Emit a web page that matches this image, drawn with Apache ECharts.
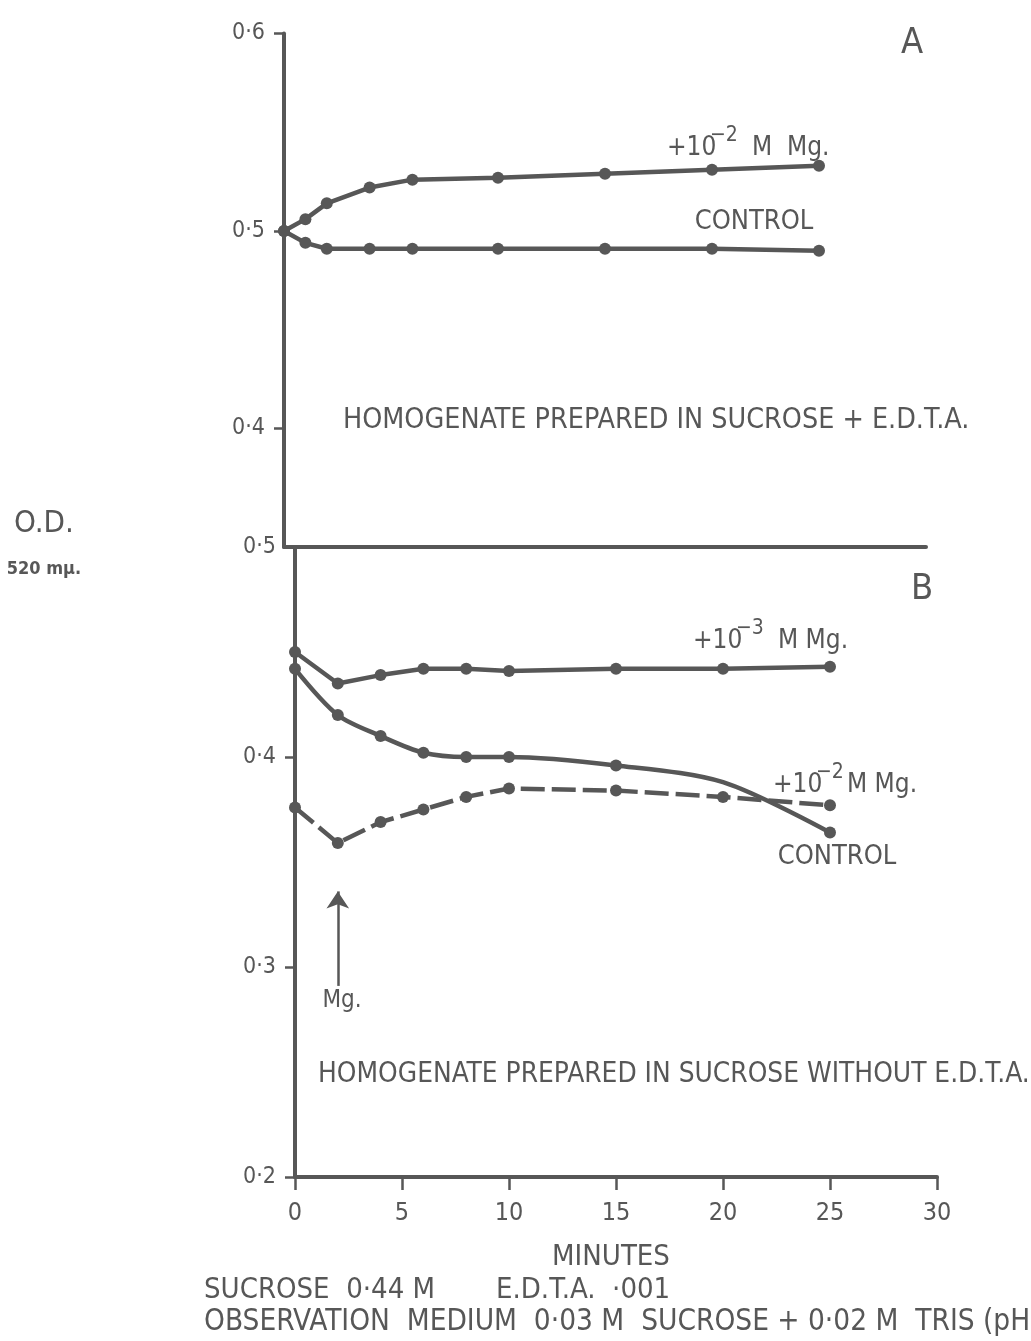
<!DOCTYPE html>
<html>
<head>
<meta charset="utf-8">
<script src="https://cdn.jsdelivr.net/npm/echarts@6/dist/echarts.min.js"></script>
<style>
  html, body { margin: 0; padding: 0; background: #ffffff; }
  #chart { width: 1031px; height: 1341px; }
</style>
</head>
<body>
<div id="chart"></div>
<script>
// Panel A: homogenate prepared in sucrose + EDTA (minutes, O.D. at 520 mµ)
const timesA = [0, 1, 2, 4, 6, 10, 15, 20, 25];
const mg2A = [0.500, 0.506, 0.514, 0.522, 0.526, 0.527, 0.529, 0.531, 0.533];
const controlA = [0.500, 0.494, 0.491, 0.491, 0.491, 0.491, 0.491, 0.491, 0.490];

// Panel B: homogenate prepared in sucrose without EDTA
const timesB = [0, 2, 4, 6, 8, 10, 15, 20, 25];
const mg3B = [0.450, 0.435, 0.439, 0.442, 0.442, 0.441, 0.442, 0.442, 0.443];
const controlB = [0.442, 0.420, 0.410, 0.402, 0.400, 0.400, 0.396, 0.388, 0.364];
const mg2B = [0.376, 0.359, 0.369, 0.375, 0.381, 0.385, 0.384, 0.381, 0.377];
// the 20-minute control reading lies on the curve but carries no dot
const controlBUnmarked = [20];

const ticksA = [0.4, 0.5, 0.6];
const xTicks = [0, 5, 10, 15, 20, 25, 30];

const INK = '#575757';
const FONT = '"Liberation Sans Narrow", "DejaVu Sans Condensed", "Liberation Sans", "DejaVu Sans", sans-serif';

function pairs(xs, ys, hidden) {
  return xs.map((x, i) => {
    if (hidden && hidden.includes(x)) return { value: [x, ys[i]], symbol: 'none' };
    return [x, ys[i]];
  });
}
const dotFmt = v => String(Math.round(v * 10) / 10).replace('.', '·');

function lineSeries(name, data, xi, dash, smooth) {
  return {
    name, type: 'line', data,
    xAxisIndex: xi, yAxisIndex: xi,
    symbol: 'circle', symbolSize: 12,
    smooth: smooth || false,
    lineStyle: { color: INK, width: 4.5, type: dash || 'solid' },
    itemStyle: { color: INK },
    emphasis: { disabled: true },
    animation: false, z: 3
  };
}

function txt(x, y, text, size, align, weight) {
  return {
    type: 'text', x, y, silent: true,
    style: { text, fontSize: size, fontWeight: weight || 'normal', fontFamily: FONT, fill: INK,
      align: align || 'left', verticalAlign: 'middle' }
  };
}

const chart = echarts.init(document.getElementById('chart'), null, { renderer: 'canvas' });

chart.setOption({
  backgroundColor: '#ffffff',
  animation: false,
  grid: [
    { left: 284, top: 33.5, width: 642, height: 513.5, outerBoundsMode: 'none' },
    { left: 295, top: 547, width: 642, height: 630, outerBoundsMode: 'none' }
  ],
  xAxis: [
    {
      gridIndex: 0, type: 'value', min: 0, max: 30,
      axisLine: { show: true, onZero: false, lineStyle: { color: INK, width: 4 } },
      axisTick: { show: false }, axisLabel: { show: false }, splitLine: { show: false }
    },
    {
      gridIndex: 1, type: 'value', min: 0, max: 30, interval: 5,
      axisLine: { show: true, onZero: false, lineStyle: { color: INK, width: 4 } },
      axisTick: { show: true, length: 13, lineStyle: { color: INK, width: 2.5 } },
      axisLabel: { color: INK, fontSize: 25, fontFamily: FONT, margin: 24,
        customValues: xTicks },
      splitLine: { show: false }
    }
  ],
  yAxis: [
    {
      gridIndex: 0, type: 'value', min: 0.34, max: 0.6,
      axisLine: { show: true, onZero: false, lineStyle: { color: INK, width: 4 } },
      axisTick: { show: true, length: 10, lineStyle: { color: INK, width: 2.5 }, customValues: ticksA },
      axisLabel: { color: INK, fontSize: 23, fontFamily: FONT, margin: 19, formatter: dotFmt, customValues: ticksA },
      splitLine: { show: false }
    },
    {
      gridIndex: 1, type: 'value', min: 0.2, max: 0.5, interval: 0.1,
      axisLine: { show: true, onZero: false, lineStyle: { color: INK, width: 4 } },
      axisTick: { show: true, length: 10, lineStyle: { color: INK, width: 2.5 } },
      axisLabel: { color: INK, fontSize: 23, fontFamily: FONT, margin: 19, formatter: dotFmt },
      splitLine: { show: false }
    }
  ],
  series: [
    lineSeries('+10-2 M Mg. (A)', pairs(timesA, mg2A), 0),
    lineSeries('Control (A)', pairs(timesA, controlA), 0),
    lineSeries('+10-3 M Mg. (B)', pairs(timesB, mg3B), 1),
    lineSeries('Control (B)', pairs(timesB, controlB, controlBUnmarked), 1, 'solid', 0.3),
    Object.assign(lineSeries('+10-2 M Mg. (B)', pairs(timesB, mg2B), 1, [24, 7]), {
      // time at which Mg was added
      markLine: {
        silent: true, symbol: ['none', 'arrow'], symbolSize: [17, 17],
        lineStyle: { color: INK, width: 2.5, type: 'solid' },
        label: { show: false },
        data: [[{ coord: [2, 0.291] }, { coord: [2, 0.336] }]]
      }
    })
  ],
  graphic: [
    txt(912, 44, 'A', 36, 'center'),
    txt(922, 590, 'B', 36, 'center'),

    txt(667, 148, '+10', 26),
    txt(710, 136, '−2', 21),
    txt(752, 148, 'M  Mg.', 26),
    txt(754, 222, 'CONTROL', 27, 'center'),

    txt(343, 421, 'HOMOGENATE PREPARED IN SUCROSE + E.D.T.A.', 28.4),

    txt(693, 641, '+10', 26),
    txt(736, 629, '−3', 21),
    txt(778, 641, 'M Mg.', 26),

    txt(773, 785, '+10', 26),
    txt(816, 773, '−2', 21),
    txt(847, 785, 'M Mg.', 26),
    txt(837, 857, 'CONTROL', 27, 'center'),

    txt(342, 1001, 'Mg.', 24, 'center'),
    txt(318, 1075, 'HOMOGENATE PREPARED IN SUCROSE WITHOUT E.D.T.A.', 27.8),

    txt(44, 524, 'O.D.', 31, 'center'),
    txt(44, 569, '520 mµ.', 18, 'center', 'bold'),

    txt(611, 1257, 'MINUTES', 29, 'center'),
    txt(204, 1290, 'SUCROSE  0·44 M', 29),
    txt(496, 1290, 'E.D.T.A.  ·001', 29),
    txt(204, 1322, 'OBSERVATION  MEDIUM  0·03 M  SUCROSE + 0·02 M  TRIS (pH', 29.5)
  ]
});
</script>
</body>
</html>
